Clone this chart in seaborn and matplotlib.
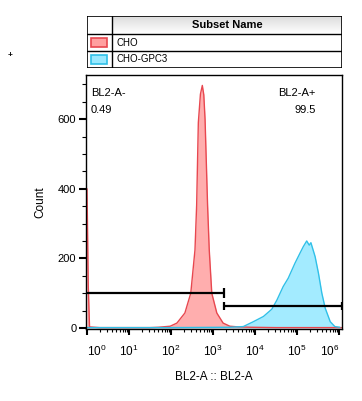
import matplotlib
matplotlib.use("Agg")
import matplotlib.pyplot as plt
import numpy as np
import pandas as pd
import seaborn as sns
from matplotlib.patches import Rectangle
from matplotlib.ticker import FixedLocator, LogLocator, MultipleLocator, NullFormatter

# histogram outlines: x in decades (log10 of BL2-A), y in counts
cho_decade = [0.00, 0.03, 0.06, 0.30, 1.00, 1.50, 1.70, 1.98, 2.14, 2.33, 2.47, 2.57,
              2.61, 2.65, 2.70, 2.745, 2.78, 2.81, 2.87, 2.91, 2.97, 3.09, 3.24, 3.40,
              3.60, 3.90, 4.50, 6.06]
cho_count = [400, 120, 3, 1, 1, 1, 2, 5, 14, 43, 100, 224,
             353, 590, 672, 697, 670, 600, 353, 224, 100, 43, 14, 5,
             3, 2, 1, 1]
gpc3_decade = [0.00, 2.00, 3.40, 3.72, 3.96, 4.20, 4.40, 4.52, 4.67, 4.79, 4.95, 5.07,
               5.15, 5.23, 5.29, 5.33, 5.43, 5.51, 5.59, 5.67, 5.79, 5.90, 6.02]
gpc3_count = [1, 1, 2, 4, 18, 33, 54, 80, 119, 143, 186, 215,
              234, 250, 238, 245, 205, 157, 100, 57, 18, 4, 2]

subsets = ["CHO", "CHO-GPC3"]
line_colors = ["#e8474f", "#30c0e8"]
fill_colors = ["#ffa0a0", "#99e9ff"]

# gates: (start decade, end decade, drawn at count, name, percent)
gate_names = ["BL2-A-", "BL2-A+"]
gate_pcts = ["0.49", "99.5"]
gate_start = [-0.03, 3.26]
gate_end = [3.26, 6.06]
gate_level = [100, 63]

sns.set_style("ticks")
plt.rcParams["font.family"] = ["Liberation Sans", "DejaVu Sans"]
plt.rcParams["mathtext.fontset"] = "custom"
plt.rcParams["mathtext.rm"] = "Liberation Sans"
for key in ["text.color", "axes.labelcolor", "xtick.color", "ytick.color", "axes.edgecolor"]:
    plt.rcParams[key] = "black"

fig = plt.figure(figsize=(3.62, 4.01), dpi=100)
ax = fig.add_axes([86 / 362, 1 - 329 / 401, 256 / 362, 254 / 401])

curves = pd.concat(
    [
        pd.DataFrame({"bl2": 10.0 ** np.array(cho_decade), "count": cho_count, "subset": subsets[0]}),
        pd.DataFrame({"bl2": 10.0 ** np.array(gpc3_decade), "count": gpc3_count, "subset": subsets[1]}),
    ]
)

for name, fc in zip(subsets, fill_colors):
    part = curves[curves["subset"] == name]
    ax.fill_between(part["bl2"], 0, part["count"], color=fc, alpha=0.85 if name == "CHO" else 0.9,
                    linewidth=0)
sns.lineplot(
    data=curves, x="bl2", y="count", hue="subset", palette=line_colors,
    linewidth=1.0, legend=False, ax=ax, sort=False, estimator=None,
)

ax.set_xscale("log")
ax.set_xlim(10 ** -0.024, 10 ** 6.07)
ax.set_ylim(-3, 727)

# gates
for i in range(2):
    xs = [10 ** gate_start[i], 10 ** gate_end[i]]
    ax.plot(xs, [gate_level[i]] * 2, color="black", linewidth=1.6, solid_capstyle="butt")
    ends = xs[1:] if i == 0 else xs
    ax.plot(ends, [gate_level[i]] * len(ends), linestyle="none", marker="|",
            markersize=7 if i == 0 else 6, markeredgewidth=1.6, color="black")

ax.text(0.02, 0.93, gate_names[0], transform=ax.transAxes, fontsize=8, va="center", ha="left")
ax.text(0.02, 0.862, gate_pcts[0], transform=ax.transAxes, fontsize=8, va="center", ha="left")
ax.text(0.897, 0.93, gate_names[1], transform=ax.transAxes, fontsize=8, va="center", ha="right")
ax.text(0.897, 0.862, gate_pcts[1], transform=ax.transAxes, fontsize=8, va="center", ha="right")

# axes styling
for sp in ax.spines.values():
    sp.set_color("black")
    sp.set_linewidth(1.0)
ax.xaxis.set_major_locator(FixedLocator([10.0 ** k for k in range(7)]))
ax.set_xticklabels([f"$10^{{{k}}}$" for k in range(7)])
ax.xaxis.set_minor_locator(LogLocator(base=10, subs=np.arange(2, 10), numticks=20))
ax.xaxis.set_minor_formatter(NullFormatter())
ax.yaxis.set_major_locator(MultipleLocator(200))
ax.yaxis.set_minor_locator(MultipleLocator(50))
ax.tick_params(axis="y", which="major", length=5, width=1.5, pad=2, labelsize=8)
ax.tick_params(axis="y", which="minor", length=3, width=0.8, left=True)
ax.tick_params(axis="x", which="major", length=4, width=1.5, pad=7, labelsize=8.5)
ax.tick_params(axis="x", which="minor", length=2.5, width=0.8, bottom=True)
labels = ax.get_xticklabels()
labels[0].set_ha("left")
labels[-1].set_ha("right")
ax.set_xlabel("BL2-A :: BL2-A", fontsize=8.5, labelpad=8)
ax.set_ylabel("Count", fontsize=8.5, labelpad=8)

# subset table above the plot
tab = fig.add_axes([87 / 362, 1 - 68 / 401, 255 / 362, 52 / 401])
tab.set_xlim(87, 342)
tab.set_ylim(68, 16)
tab.axis("off")
grad = np.linspace(0.86, 1.0, 32)[:, None]
tab.imshow(grad, extent=(112, 342, 34, 16), cmap="gray", vmin=0, vmax=1, aspect="auto")
tab.add_patch(Rectangle((87, 16), 255, 52, fill=False, edgecolor="black", linewidth=1.2))
for yy in [34, 51]:
    tab.plot([87, 342], [yy, yy], color="black", linewidth=1.0)
tab.plot([112, 112], [16, 68], color="black", linewidth=1.0)
tab.text(227, 25, "Subset Name", fontsize=8, fontweight="bold", ha="center", va="center")
for row, (name, fc, lc) in enumerate(zip(subsets, fill_colors, line_colors)):
    yc = 42.5 + 16.5 * row
    tab.add_patch(Rectangle((91, yc - 4.5), 15.5, 9, facecolor=fc, edgecolor=lc, linewidth=1.2))
    tab.text(116.5, yc, name, fontsize=7, ha="left", va="center")

fig.text(10 / 362, 1 - 56 / 401, "+", fontsize=6, fontweight="bold", ha="center", va="center")

fig.savefig("out.png", dpi=100)
